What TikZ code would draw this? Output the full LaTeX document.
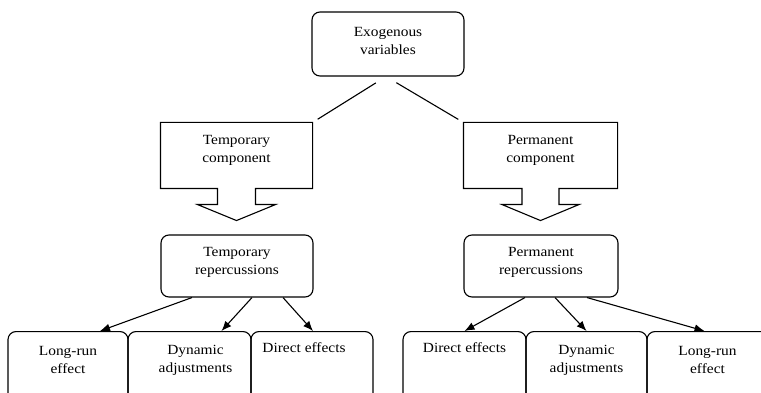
\documentclass[tikz,border=0pt]{standalone}
\usepackage{fontspec}
\setmainfont[FakeStretch=1.1]{Liberation Serif}
\usetikzlibrary{calc,arrows.meta}
\begin{document}
\begin{tikzpicture}[x=1pt,y=-1pt, line width=1.1pt,
 box/.style={draw, rounded corners=8pt, inner sep=0},
 plainbox/.style={inner sep=0},
 txt/.style={align=center, inner sep=0, font=\fontsize{14}{18}\selectfont},
 arr/.style={-{Latex[length=10pt,width=8pt]}},
 ]
\clip (0,0) rectangle (761,393);
% top
\node[box, minimum width=152pt, minimum height=64pt] (ex) at (388,44) {};
\node[txt] (extx) at ($(ex.center)+(0,-3.5)$) {Exogenous\\variables};
% components
\node[plainbox, minimum width=151pt, minimum height=65pt] (tc) at (236.5,155.5) {};
\node[plainbox, minimum width=153pt, minimum height=65pt] (pc) at (540.5,155.5) {};
\foreach \c/\s in {tc/19,pc/18.5}{
  \draw (\c.north west) -- (\c.north east) -- (\c.south east)
    -- ($(\c.south)+(\s,0)$) -- ++(0,16) -- ++(20,0)
    -- ($(\c.south)+(0,32)$) -- ($(\c.south)+(-\s-20,16)$) -- ++(20,0)
    -- ++(0,-16) -- (\c.south west) -- cycle;
}
\node[txt] (tctx) at ($(tc.center)+(0,-5.5)$) {Temporary\\component};
\node[txt] (pctx) at ($(pc.center)+(0,-5.5)$) {Permanent\\component};
\draw[shorten <=12pt, shorten >=6pt] ([xshift=-2pt]ex.south) -- (tc.north east);
\draw[shorten <=12pt, shorten >=6pt] ([xshift=-2pt]ex.south) -- (pc.north west);
% repercussions
\node[box, minimum width=152pt, minimum height=62pt] (tr) at (237,266) {};
\node[box, minimum width=154pt, minimum height=62pt] (pr) at (541,266) {};
\node[txt] (trtx) at ($(tr.center)+(0,-4)$) {Temporary\\repercussions};
\node[txt] (prtx) at ($(pr.center)+(0,-4)$) {Permanent\\repercussions};
% bottom boxes
\node[box, anchor=north, minimum width=120pt, minimum height=100pt] (b1) at (68,331) {};
\node[box, anchor=north, minimum width=123pt, minimum height=100pt] (b2) at (189.5,331) {};
\node[box, anchor=north, minimum width=122pt, minimum height=100pt] (b3) at (312,331) {};
\node[box, anchor=north, minimum width=123pt, minimum height=100pt] (b4) at (464.5,331) {};
\node[box, anchor=north, minimum width=121pt, minimum height=100pt] (b5) at (586.5,331) {};
\node[box, anchor=north, minimum width=123pt, minimum height=100pt] (b6) at (708.5,331) {};
\node[txt] (t1) at ($(b1.north)+(0,29)$) {Long-run\\effect};
\node[txt] (t2) at ($(b2.north)+(6,29)$) {Dynamic\\adjustments};
\node[txt] (t3) at ($(b3.north)+(-8,17)$) {Direct effects};
\node[txt] (t4) at ($(b4.north)+(0,17)$) {Direct effects};
\node[txt] (t5) at ($(b5.north)+(0,29)$) {Dynamic\\adjustments};
\node[txt] (t6) at ($(b6.north)+(-1,29)$) {Long-run\\effect};
% arrows
\draw[arr] ($(tr.south)+(-45,0)$) -- ($(b1.north)+(32,0)$);
\draw[arr] ($(tr.south)+(15,0)$) -- ($(b2.north)+(32,0)$);
\draw[arr] ($(tr.south)+(46,0)$) -- ($(b3.north)+(1,0)$);
\draw[arr] ($(pr.south)+(-16,0)$) -- ($(b4.north)+(0,0)$);
\draw[arr] ($(pr.south)+(14,0)$) -- ($(b5.north)+(0,0)$);
\draw[arr] ($(pr.south)+(46,0)$) -- ($(b6.north)+(-4,0)$);
\end{tikzpicture}
\end{document}
